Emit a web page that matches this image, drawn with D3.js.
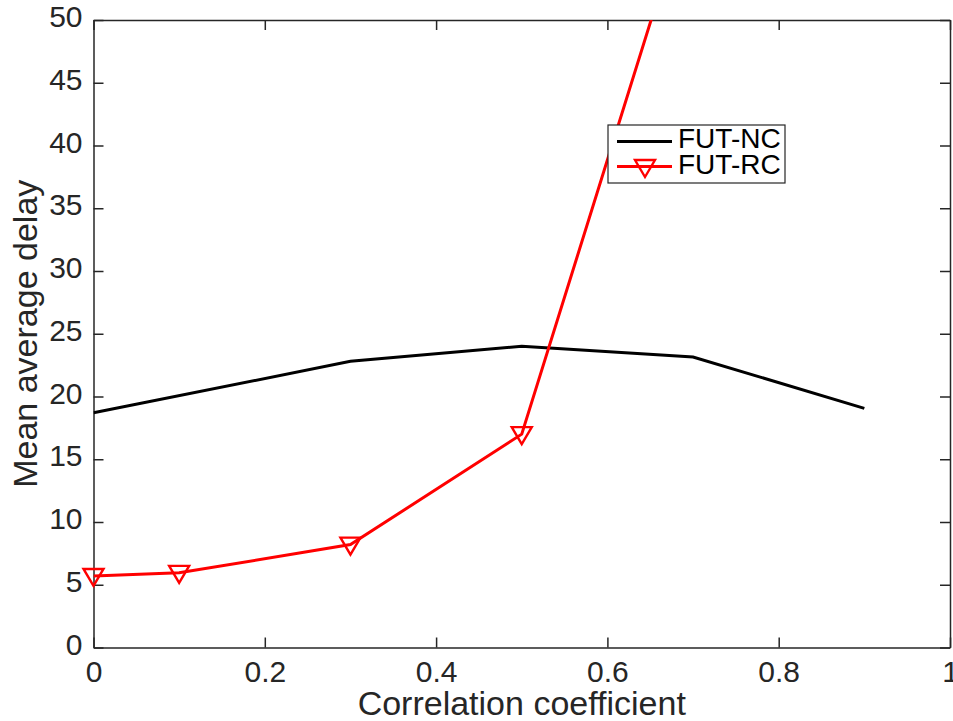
<!DOCTYPE html>
<html>
<head>
<script src="https://cdn.jsdelivr.net/npm/d3@7"></script>
<style>
  body { margin: 0; background: #fff; }
  svg { font-family: "Liberation Sans", Arial, sans-serif; }
  .axis text { fill: #262626; font-size: 30px; }
  .axis path, .axis line { stroke: #262626; stroke-width: 1.5; }
</style>
</head>
<body>
<script>
// values
var xTicks = [0, 0.2, 0.4, 0.6, 0.8, 1];
var yTicks = [0, 5, 10, 15, 20, 25, 30, 35, 40, 45, 50];
var ncX = [0, 0.3, 0.5, 0.7, 0.9];
var ncY = [18.7, 22.8, 24.0, 23.15, 19.05];
var rcX = [0, 0.1, 0.3, 0.5, 0.7];
var rcY = [5.7, 5.95, 8.2, 17.0, 60.7];
var seriesNames = ["FUT-NC", "FUT-RC"];

var W = 953, H = 721;
var m = {left: 93.5, top: 20, right: 3, bottom: 73.5};
var iw = W - m.left - m.right, ih = H - m.top - m.bottom;

var svg = d3.select("body").append("svg").attr("width", W).attr("height", H);
var g = svg.append("g").attr("transform", "translate(" + m.left + "," + m.top + ")");

var x = d3.scaleLinear().domain([0, 1]).range([0, iw]);
var y = d3.scaleLinear().domain([0, 50]).range([ih, 0]);

// axes, ticks pointing inward, box on all sides
var xb = g.append("g").attr("class", "axis")
  .attr("transform", "translate(0," + ih + ")")
  .call(d3.axisBottom(x).tickValues(xTicks).tickSizeInner(-10).tickSizeOuter(0).tickPadding(13).tickFormat(d3.format("")));
g.append("g").attr("class", "axis")
  .call(d3.axisTop(x).tickValues(xTicks).tickSizeInner(-10).tickSizeOuter(0).tickFormat(""));
var yl = g.append("g").attr("class", "axis")
  .call(d3.axisLeft(y).tickValues(yTicks).tickSizeInner(-10).tickSizeOuter(0).tickPadding(11));
g.append("g").attr("class", "axis")
  .attr("transform", "translate(" + iw + ",0)")
  .call(d3.axisRight(y).tickValues(yTicks).tickSizeInner(-10).tickSizeOuter(0).tickFormat(""));

xb.selectAll(".tick text").attr("dy", "0.71em");
yl.selectAll(".tick text").attr("dy", "0.22em");

// clip region
svg.append("clipPath").attr("id", "clip")
  .append("rect").attr("width", iw).attr("height", ih);

var line = d3.line().x(function (d) { return x(d[0]); }).y(function (d) { return y(d[1]); });
var nc = ncX.map(function (v, i) { return [v, ncY[i]]; });
var rc = rcX.map(function (v, i) { return [v, rcY[i]]; });

var plot = g.append("g").attr("clip-path", "url(#clip)");
plot.append("path").datum(nc).attr("d", line)
  .attr("fill", "none").attr("stroke", "#000").attr("stroke-width", 3);
plot.append("path").datum(rc).attr("d", line)
  .attr("fill", "none").attr("stroke", "#ff0000").attr("stroke-width", 3);

var tri = "M-10,-7L10,-7L0,10Z";
g.selectAll(".mk").data(rc.filter(function (d) { return d[1] <= 50; }))
  .enter().append("path")
  .attr("transform", function (d) { return "translate(" + x(d[0]) + "," + y(d[1]) + ")"; })
  .attr("d", tri).attr("fill", "none").attr("stroke", "#ff0000").attr("stroke-width", 2.4);

// axis labels
svg.append("text").attr("x", m.left + iw / 2).attr("y", 715)
  .attr("text-anchor", "middle").attr("font-size", 34).attr("fill", "#262626")
  .text("Correlation coefficient");
svg.append("text").attr("transform", "translate(37," + (m.top + ih / 2) + ") rotate(-90)")
  .attr("text-anchor", "middle").attr("font-size", 34).attr("fill", "#262626")
  .text("Mean average delay");

// legend
var lg = svg.append("g").attr("transform", "translate(608,125)");
lg.append("rect").attr("width", 177).attr("height", 58)
  .attr("fill", "#fff").attr("stroke", "#262626").attr("stroke-width", 1.2);
lg.append("line").attr("x1", 9).attr("x2", 64).attr("y1", 16.5).attr("y2", 16.5)
  .attr("stroke", "#000").attr("stroke-width", 3);
lg.append("line").attr("x1", 9).attr("x2", 64).attr("y1", 41.5).attr("y2", 41.5)
  .attr("stroke", "#ff0000").attr("stroke-width", 3);
lg.append("path").attr("transform", "translate(37,42)").attr("d", tri)
  .attr("fill", "none").attr("stroke", "#ff0000").attr("stroke-width", 2.4);
lg.selectAll(".lt").data(seriesNames).enter().append("text")
  .attr("x", 70).attr("y", function (d, i) { return 23 + i * 26; })
  .attr("font-size", 28).attr("fill", "#000")
  .text(function (d) { return d; });
</script>
</body>
</html>
